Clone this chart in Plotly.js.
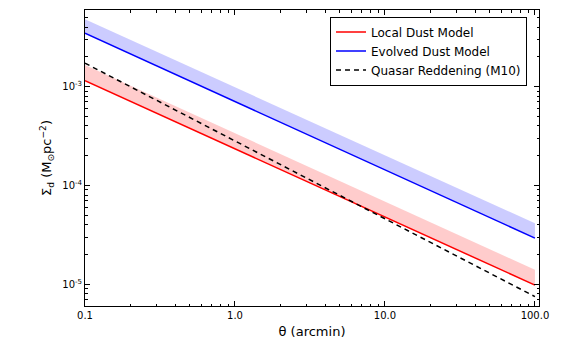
<!DOCTYPE html>
<html><head><meta charset="utf-8">
<script src="https://cdn.plot.ly/plotly-3.0.1.min.js"></script>
<style>body{margin:0;background:#fff}#c{width:568px;height:348px}</style>
</head><body><div id="c"></div>
<script>
// theta (arcmin)
const theta = [0.1, 1, 10, 100];
// Local dust model (red) line and band upper edge
const localDust = [1.15e-3, 2.35e-4, 4.8e-5, 9.8e-6];
const localDustUpper = [1.66e-3, 3.4e-4, 6.9e-5, 1.4e-5];
// Evolved dust model (blue) line and band upper edge
const evolvedDust = [3.47e-3, 7.06e-4, 1.44e-4, 2.93e-5];
const evolvedDustUpper = [4.8e-3, 9.9e-4, 2.03e-4, 4.15e-5];
// Quasar reddening (M10)
const quasarRed = [1.73e-3, 2.8e-4, 4.6e-5, 7.5e-6];

const xTickVals = [0.1, 1, 10, 100];
const xTickText = ["0.1", "1.0", "10.0", "100.0"];
const yTickVals = [1e-5, 1e-4, 1e-3];
const yTickText = ["10<sup>-5</sup>", "10<sup>-4</sup>", "10<sup>-3</sup>"];

const traces = [
  {x: theta, y: localDust, mode: 'lines', line: {width: 0, color: 'rgba(0,0,0,0)'}, showlegend: false, hoverinfo: 'skip'},
  {x: theta, y: localDustUpper, mode: 'lines', line: {width: 0, color: 'rgba(0,0,0,0)'}, fill: 'tonexty', fillcolor: 'rgba(255,0,0,0.2)', showlegend: false, hoverinfo: 'skip'},
  {x: theta, y: evolvedDust, mode: 'lines', line: {width: 0, color: 'rgba(0,0,0,0)'}, showlegend: false, hoverinfo: 'skip'},
  {x: theta, y: evolvedDustUpper, mode: 'lines', line: {width: 0, color: 'rgba(0,0,0,0)'}, fill: 'tonexty', fillcolor: 'rgba(0,0,255,0.2)', showlegend: false, hoverinfo: 'skip'},
  {x: theta, y: localDust, mode: 'lines', name: 'Local Dust Model', line: {color: '#ff0000', width: 1.5}},
  {x: theta, y: evolvedDust, mode: 'lines', name: 'Evolved Dust Model', line: {color: '#0000ff', width: 1.5}},
  {x: theta, y: quasarRed, mode: 'lines', name: 'Quasar Reddening (M10)', line: {color: '#000000', width: 1.5, dash: '5px,4px'}}
];

const axisCommon = {
  showline: true, linecolor: '#000', linewidth: 1, mirror: 'ticks',
  ticks: 'inside', ticklen: 5, tickcolor: '#000', tickwidth: 1,
  showgrid: false, zeroline: false,
  tickfont: {family: 'DejaVu Sans', size: 10, color: '#000'},
  minor: {ticks: 'inside', ticklen: 2.5, tickcolor: '#000', dtick: 'D1', showgrid: false}
};

const layout = {
  width: 568, height: 348,
  margin: {l: 85, r: 29, t: 10, b: 42},
  paper_bgcolor: '#fff', plot_bgcolor: '#fff',
  font: {family: 'DejaVu Sans', color: '#000'},
  xaxis: Object.assign({}, axisCommon, {
    type: 'log', range: [-1, 2.027],
    tickmode: 'array', tickvals: xTickVals, ticktext: xTickText,
    title: {text: 'θ (arcmin)', font: {family: 'DejaVu Sans', size: 13}, standoff: 6}
  }),
  yaxis: Object.assign({}, axisCommon, {
    type: 'log', range: [-5.22, -2.224],
    tickmode: 'array', tickvals: yTickVals, ticktext: yTickText,
    title: {text: 'Σ<sub>d</sub> (M<sub>⊙</sub>pc<sup>−2</sup>)', font: {family: 'DejaVu Sans', size: 13}, standoff: 7}
  }),
  legend: {
    x: 0.9736, xanchor: 'right', y: 0.978, yanchor: 'top',
    bgcolor: '#fff', bordercolor: '#000', borderwidth: 1,
    font: {family: 'DejaVu Sans', size: 12, color: '#000'},
    traceorder: 'normal',
    tracegroupgap: 0, itemwidth: 30
  },
  showlegend: true
};

Plotly.newPlot('c', traces, layout, {displayModeBar: false, staticPlot: true});
</script></body></html>
